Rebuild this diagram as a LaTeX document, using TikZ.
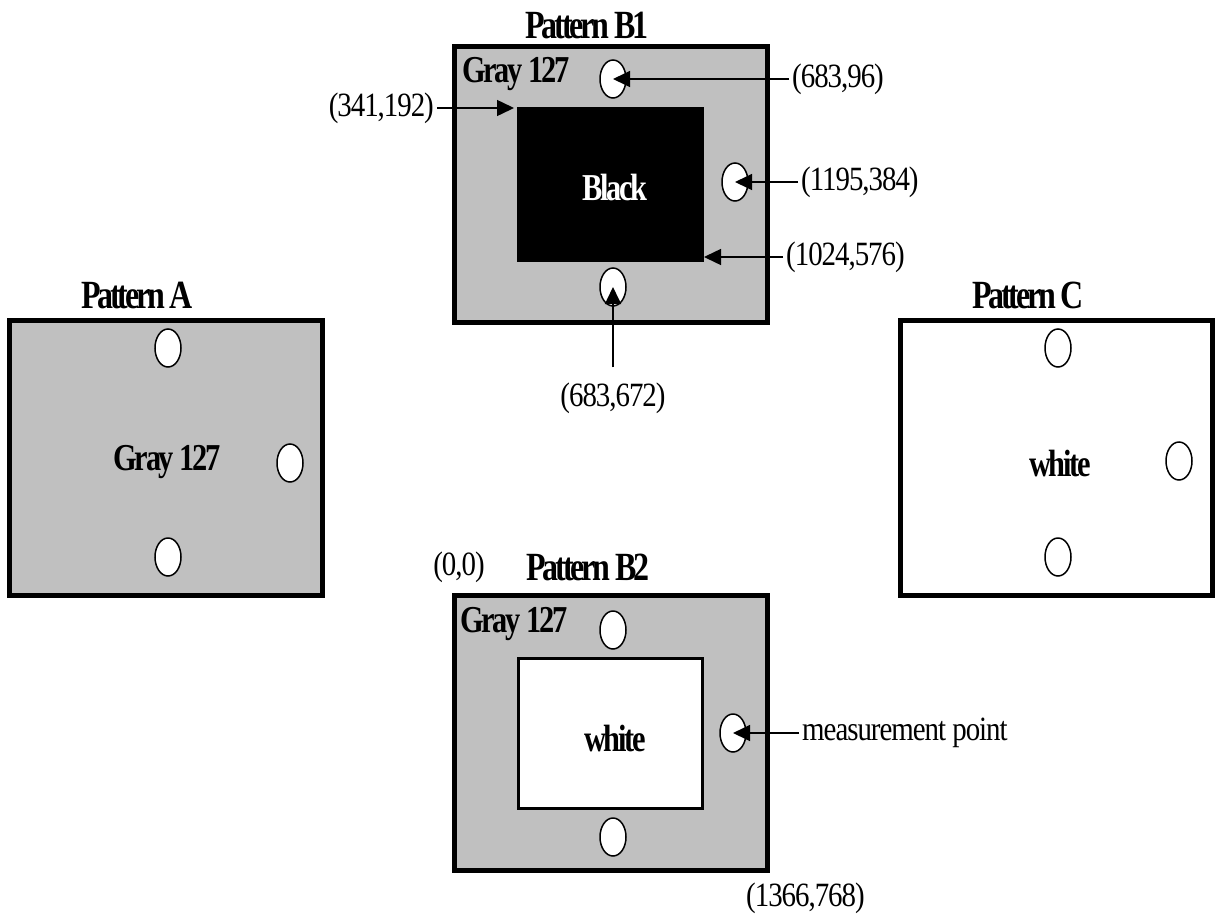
\documentclass[tikz,border=0pt]{standalone}
\usepackage{fontspec}
\setmainfont{Liberation Serif}[FakeStretch=0.85, LetterSpace=-3]
\newfontfamily\headfont{Liberation Serif}[FakeStretch=0.8, LetterSpace=-8]
\newfontfamily\tagfont{Liberation Serif}[FakeStretch=0.8, LetterSpace=-6]
\usepackage{xcolor}
\definecolor{GrayLevel}{HTML}{C0C0C0}
\usetikzlibrary{
  positioning,
  arrows.meta,
  shapes.geometric
}

\begin{document}
\begin{tikzpicture}[
    x=1pt, y=-1pt,
    panel/.style={
      rectangle, draw=black, line width=5pt, fill=#1,
      minimum width=312.5pt, minimum height=275.5pt,
      inner sep=0pt, outer sep=0pt
    },
    core/.style={
      rectangle, fill=#1, inner sep=0pt, outer sep=0pt
    },
    hole/.style={
      ellipse, draw=black, line width=1.5pt, fill=white,
      minimum width=26pt, minimum height=38pt, inner sep=0pt
    },
    arr/.style={-{Triangle[length=17pt, width=16pt]}, line width=1.5pt},
    title/.style={font=\fontsize{40}{44}\selectfont\headfont\bfseries},
    tag/.style={font=\fontsize{38}{42}\selectfont\tagfont\bfseries},
    coord/.style={font=\fontsize{34}{38}\selectfont, inner sep=3pt}
  ]
    \useasboundingbox (0,0) rectangle (1216,919);

    % panels
    \node[panel=GrayLevel] (pA) at (166,458) {};
    \node[panel=white] (pC) at (1056.5,458) {};
    \node[panel=GrayLevel] (pB1) at (611,184.5) {};
    \node[panel=GrayLevel] (pB2) at (611,733) {};

    \node[core=black, minimum width=187pt, minimum height=155pt] (blk)
      at (610.5,184.5) {};
    \node[core=white, draw=black, line width=3pt,
      minimum width=184pt, minimum height=150pt] (wht) at (610.5,733.5) {};

    % measurement points
    \node[hole] (aTop) at (168,348) {};
    \node[hole] (aRgt) at (290,463) {};
    \node[hole] (aBot) at (168,557) {};
    \node[hole] (cTop) at (1058,348) {};
    \node[hole] (cRgt) at (1179,461) {};
    \node[hole] (cBot) at (1058,557) {};
    \node[hole] (b1Top) at (613,79) {};
    \node[hole] (b1Rgt) at (735,182) {};
    \node[hole] (b1Bot) at (613,287) {};
    \node[hole] (b2Top) at (613,630) {};
    \node[hole] (b2Rgt) at (733,733) {};
    \node[hole] (b2Bot) at (613,837) {};

    % titles and fills
    \node[title] (ttlA) at (137,295) {Pattern A};
    \node[title] (ttlB1) at (587,25) {Pattern B1};
    \node[title] (ttlC) at (1028,295) {Pattern C};
    \node[title] (ttlB2) at (588,567) {Pattern B2};

    \node[tag] (grayA) at (167,462) {Gray 127};
    \node[tag] (whiteC) at (1060,463) {white};
    \node[tag, anchor=west, inner sep=0pt] (grayB1) at (462,74) {Gray 127};
    \node[tag, text=white] (blackB1) at (615,187) {Black};
    \node[tag, anchor=west, inner sep=0pt] (grayB2) at (460,624) {Gray 127};
    \node[tag] (whiteB2) at (615,738) {white};

    % coordinates
    \node[coord, anchor=west] (c683a) at (789,79) {(683,96)};
    \node[coord, anchor=west] (c1195) at (798,182) {(1195,384)};
    \node[coord, anchor=west] (c1024) at (783,257) {(1024,576)};
    \node[coord, anchor=east] (c341) at (437,108) {(341,192)};
    \node[coord] (c683b) at (613,398) {(683,672)};
    \node[coord] (origin) at (459,567) {(0,0)};
    \node[coord, anchor=west] (cEnd) at (743,898) {(1366,768)};
    \node[coord, anchor=west] (mpt) at (799,733) {measurement point};

    \draw[arr] (c683a.west) -- (b1Top.center);
    \draw[arr] (c1195.west) -- (b1Rgt.center);
    \draw[arr] (c1024.west) -- (c1024.west -| blk.east);
    \draw[arr, shorten >=3pt] (c341.east) -- (c341.east -| blk.west);
    \draw[arr] ([yshift=12pt]c683b.north) -- (b1Bot.center);
    \draw[arr] (mpt.west) -- (b2Rgt.center);
  \end{tikzpicture}
\end{document}
